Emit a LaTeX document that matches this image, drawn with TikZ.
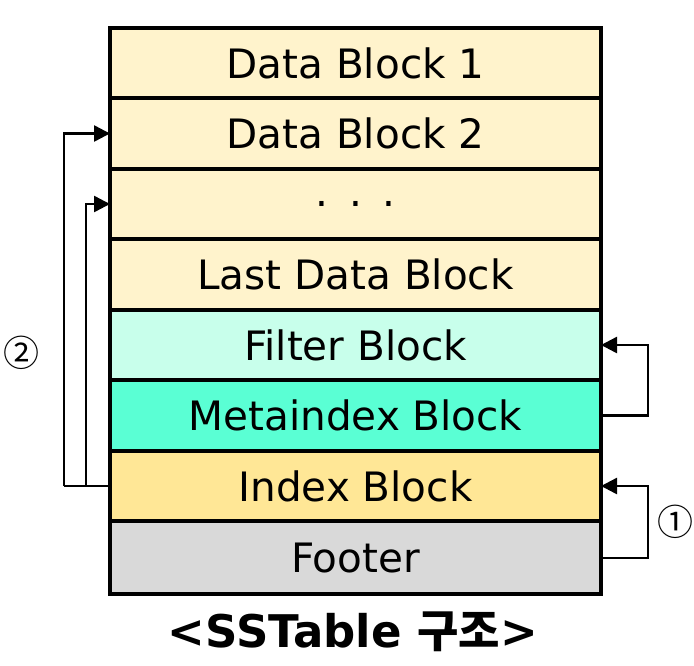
\documentclass[tikz,border=0pt]{standalone}
\usepackage{fontspec}
\setmainfont{DejaVu Sans}
\newfontfamily\kr{Noto Sans CJK KR}
\usepackage{tikz}
\usetikzlibrary{arrows.meta}
\usetikzlibrary{positioning}
\definecolor{dataCol}{RGB}{255,243,204}
\definecolor{filterCol}{RGB}{200,255,235}
\definecolor{metaCol}{RGB}{90,255,212}
\definecolor{indexCol}{RGB}{255,231,150}
\definecolor{footerCol}{RGB}{217,217,217}
\tikzstyle{block} = [draw, line width=4pt, rectangle, outer sep=0pt,
minimum height=70.5pt, minimum width=491pt, inner sep=0pt,
font=\fontsize{40.5}{46}\selectfont]
\tikzstyle{point} = [coordinate]
\tikzstyle{link} = [line width=2.5pt]
\tikzstyle{stepnum} = [font=\kr\fontsize{36}{42}\selectfont]
\begin{document}
\begin{tikzpicture}[x=1pt, y=-1pt, node distance=0pt, >={Triangle[length=16pt,width=16pt]}]
		\useasboundingbox (0,0) rectangle (694,665);
		\node [block, fill=dataCol] (db1) at (355.5,63) {Data Block 1};
		\node [block, fill=dataCol] (db2) [below=of db1] {Data Block 2};
		\node [block, fill=dataCol] (dots) [below=of db2] {.\,\,\,.\,\,\,.};
		\node [block, fill=dataCol] (last) [below=of dots] {Last Data Block};
		\node [block, fill=filterCol] (filter) [below=of last] {Filter Block};
		\node [block, fill=metaCol] (meta) [below=of filter] {Metaindex Block};
		\node [block, fill=indexCol] (index) [below=of meta] {Index Block};
		\node [block, fill=footerCol, minimum height=73pt] (footer) [below=of index] {Footer};
		
		\node [point] (p1) [left=46pt of index.west]{};
		\node [point] (p2) [left=24pt of index.west]{};
		\node [point] (p3) [right=47pt of meta.east]{};
		\node [point] (p4) [right=47pt of footer.east]{};
		
		\draw [link] (index.west) -- (p1);
		\draw [link, ->] (p1) |- (db2.west);
		\draw [link, ->] (p2) |- (dots.west);
		\draw [link, ->] (meta.east) -- (p3) |- (filter.east);
		\draw [link, ->] (footer.east) -- (p4) |- (index.east);
		
		\node [stepnum] (n2) at (22,353) {②};
		\node [stepnum] (n1) at (675,522) {①};
		
		\node (title) at (353,632) {\fontsize{45}{52}\selectfont\bfseries <SSTable {\kr 구조}>};
	\end{tikzpicture}
\end{document}
